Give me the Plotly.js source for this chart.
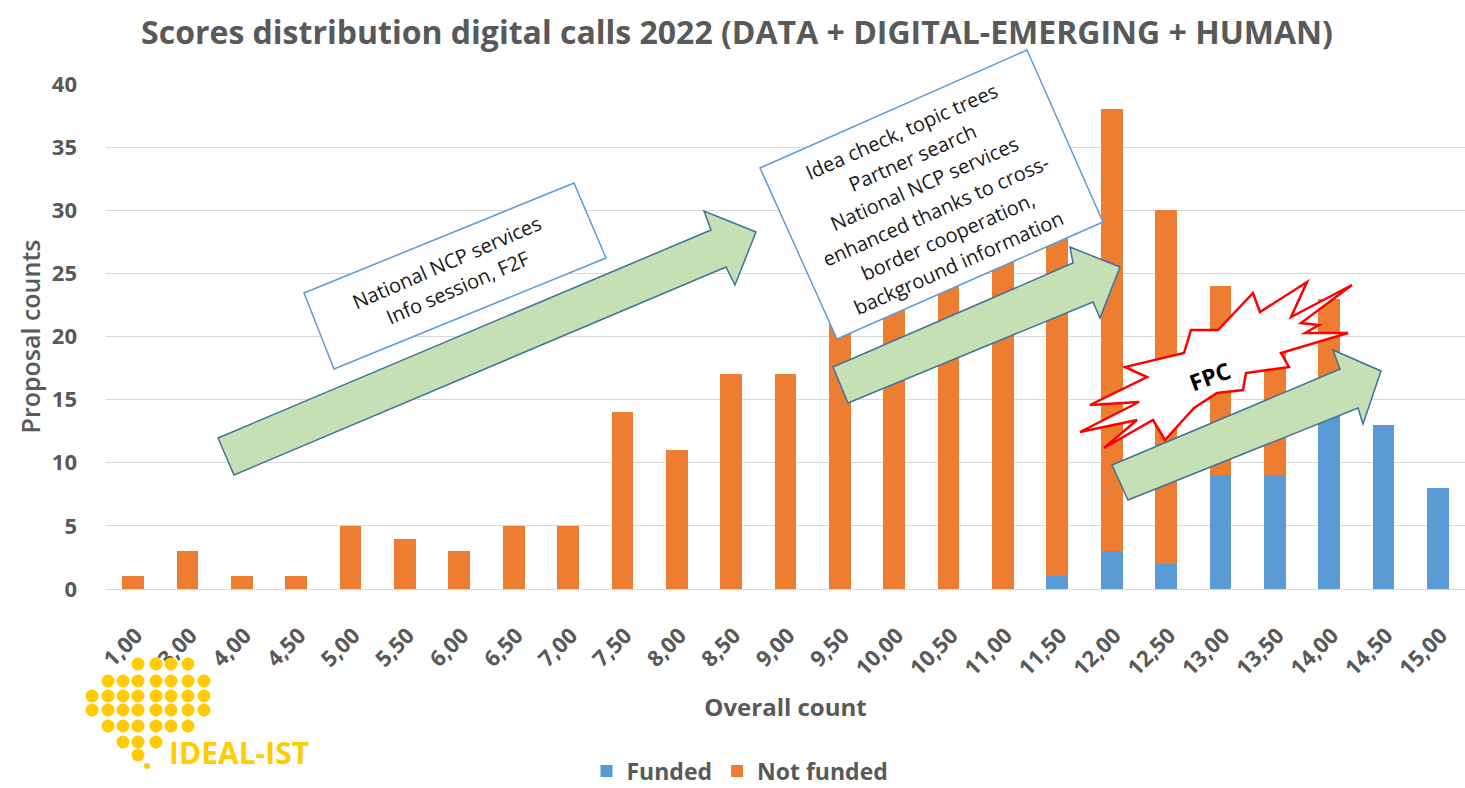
<!DOCTYPE html>
<html>
<head>
<meta charset="utf-8">
<script src="https://cdn.plot.ly/plotly-3.0.1.min.js"></script>
<style>html,body{margin:0;padding:0;background:#fff;}#chart{width:1465px;height:788px;}</style>
</head>
<body>
<div id="chart"></div>
<script>
// ---- data ----
const categories = ["1,00","3,00","4,00","4,50","5,00","5,50","6,00","6,50","7,00","7,50","8,00","8,50","9,00","9,50","10,00","10,50","11,00","11,50","12,00","12,50","13,00","13,50","14,00","14,50","15,00"];
const funded =    [0,0,0,0,0,0,0,0,0,0,0,0,0,0,0,0,0,1,3,2,9,9,15,13,8];
const notFunded = [1,3,1,1,5,4,3,5,5,14,11,17,17,21,24,27,30,34,35,28,15,13,8,0,0];
const yTicks = [0,5,10,15,20,25,30,35,40];
const box1Lines = ["National NCP services", "Info session, F2F"];
const box2Lines = ["Idea check, topic trees", "Partner search", "National NCP services", "enhanced thanks to cross-", "border cooperation,", "background information"];

// ---- geometry helpers (pixel -> paper) ----
const L = 106, R = 1465, T = 84, B = 589;
const W = R - L, H = B - T;
const px = X => (X - L) / W;
const py = Y => (B - Y) / H;
const path = pts => 'M' + pts.map(p => px(p[0]).toFixed(5) + ',' + py(p[1]).toFixed(5)).join(' L') + ' Z';

const FONT = '"Open Sans", Lato, sans-serif';
const GREY = '#595959';

const arrowStyle = {type:'path', xref:'paper', yref:'paper', fillcolor:'#C5E0B4', line:{color:'#41719C', width:1.5}, layer:'above'};
const boxStyle = {type:'path', xref:'paper', yref:'paper', fillcolor:'#FFFFFF', line:{color:'#5B9BD5', width:1.5}, layer:'above'};

const shapes = [
  // text box 1
  Object.assign({path: path([[304,293],[574,183],[606,258],[334,369]])}, boxStyle),
  // arrow 1
  Object.assign({path: path([[218,438],[711,230],[704,211],[756,232],[735,285],[726,267],[234,475]])}, arrowStyle),
  // text box 2
  Object.assign({path: path([[760,168],[1027,50],[1103,222],[837,339]])}, boxStyle),
  // arrow 2
  Object.assign({path: path([[833,367],[1073,263],[1070,247],[1120,267],[1100,318],[1093,302],[848,403]])}, arrowStyle),
  // FPC explosion
  {type:'path', xref:'paper', yref:'paper', fillcolor:'#FFFFFF', line:{color:'#FF0000', width:2.5}, layer:'above',
   path: path([[1184,353],[1191,330],[1218,330],[1253,293],[1260,312],[1307,282],[1291,317],[1352,285],[1301,323],[1319,325],[1305,333],[1348,333],[1281,353],[1289,367],[1246,373],[1243,390],[1217,393],[1194,408],[1165,440],[1153,420],[1104,448],[1137,420],[1080,432],[1139,402],[1090,405],[1147,377],[1125,367]])},
  // arrow 3
  Object.assign({path: path([[1112,465],[1340,369],[1333,350],[1381,371],[1363,424],[1358,408],[1128,500]])}, arrowStyle)
];

// logo dots (decoration)
const dotCols = [92,108,123,138,156,171,188,204];
const dotRows = [[664,[3,4,5,6]],[681,[1,2,3,4,5,6,7]],[696,[0,1,2,3,4,5,6,7]],[710,[0,1,2,3,4,5,6,7]],[726,[1,2,3,4,5,6]],[742,[2,3,4]],[755,[3]]];
const rDot = 6.5;
dotRows.forEach(([yy, cols]) => cols.forEach(c => {
  const xx = dotCols[c];
  shapes.push({type:'circle', xref:'paper', yref:'paper', layer:'above', fillcolor:'#FFCC00', line:{width:0},
    x0: px(xx - rDot), x1: px(xx + rDot), y0: py(yy + rDot), y1: py(yy - rDot)});
}));
shapes.push({type:'circle', xref:'paper', yref:'paper', layer:'above', fillcolor:'#FFCC00', line:{width:0},
  x0: px(144), x1: px(150), y0: py(769), y1: py(763)});

// rotated multi-line text: one annotation per line, stacked along the perpendicular
function rotatedLines(lines, cx, cy, angleDeg, spacing, size) {
  const a = angleDeg * Math.PI / 180;
  const nx = -Math.sin(a), ny = Math.cos(a);
  return lines.map((t, i) => {
    const k = i - (lines.length - 1) / 2;
    return {xref:'paper', yref:'paper', x: px(cx + k * spacing * nx), y: py(cy + k * spacing * ny), text: t,
      showarrow:false, textangle: angleDeg, font:{family:FONT, size:size, color:'#1a1a1a'}, xanchor:'center', yanchor:'middle'};
  });
}

const annotations = [].concat(
  rotatedLines(box1Lines, 452, 275, -23.5, 28, 20),
  rotatedLines(box2Lines, 930, 197, -23.9, 28.5, 20),
  [
    {xref:'paper', yref:'paper', x: px(1210), y: py(376), text:'<b>FPC</b>', showarrow:false,
     textangle:-20, font:{family:FONT, size:23, color:'#000'}, xanchor:'center', yanchor:'middle'},
    {xref:'paper', yref:'paper', x: px(167), y: py(752), text:'<b>IDEAL-IST</b>', showarrow:false,
     font:{family:FONT, size:30, color:'#FFCC00'}, xanchor:'left', yanchor:'middle'}
  ]
);

const traces = [
  {type:'bar', name:'Funded', x: categories, y: funded, marker:{color:'#5B9BD5'}},
  {type:'bar', name:'Not funded', x: categories, y: notFunded, marker:{color:'#ED7D31'}}
];

const layout = {
  width:1465, height:788,
  margin:{l:L, r:1465-R, t:T, b:788-B, pad:0, autoexpand:false},
  barmode:'stack', bargap:0.6,
  paper_bgcolor:'#fff', plot_bgcolor:'#fff',
  font:{family:FONT, color:GREY},
  title:{text:'<b>Scores distribution digital calls 2022 (DATA + DIGITAL-EMERGING + HUMAN)</b>', font:{family:FONT, size:32, color:GREY},
    xref:'paper', x: px(737), xanchor:'center', yref:'container', y: 1 - 33/788, yanchor:'middle'},
  xaxis:{type:'category', tickangle:-45, tickfont:{family:FONT, size:22, color:GREY, weight:'bold'},
    ticklabelshift:3, ticklabelstandoff:24,
    showgrid:false, showline:true, linecolor:'#D9D9D9', linewidth:1, ticks:'', automargin:false,
    title:{text:'<b>Overall count</b>', font:{family:FONT, size:24, color:GREY}, standoff:18}},
  yaxis:{range:[0,40], tickvals:yTicks, ticktext:yTicks.map(String), showgrid:true, gridcolor:'#D9D9D9', gridwidth:1,
    zeroline:false, showline:false, ticks:'', ticklabelstandoff:28, automargin:false,
    tickfont:{family:FONT, size:22, color:GREY, weight:'bold'},
    title:{text:'Proposal counts', font:{family:FONT, size:25, color:GREY, weight:600}, standoff:4}},
  legend:{orientation:'h', xref:'paper', yref:'paper', x: px(740), xanchor:'center', y: py(771), yanchor:'middle',
    font:{family:FONT, size:23, color:GREY, weight:'bold'}, itemwidth:30, traceorder:'normal'},
  shapes: shapes,
  annotations: annotations,
  showlegend:true
};

Plotly.newPlot('chart', traces, layout, {displayModeBar:false, staticPlot:true});
</script>
</body>
</html>
